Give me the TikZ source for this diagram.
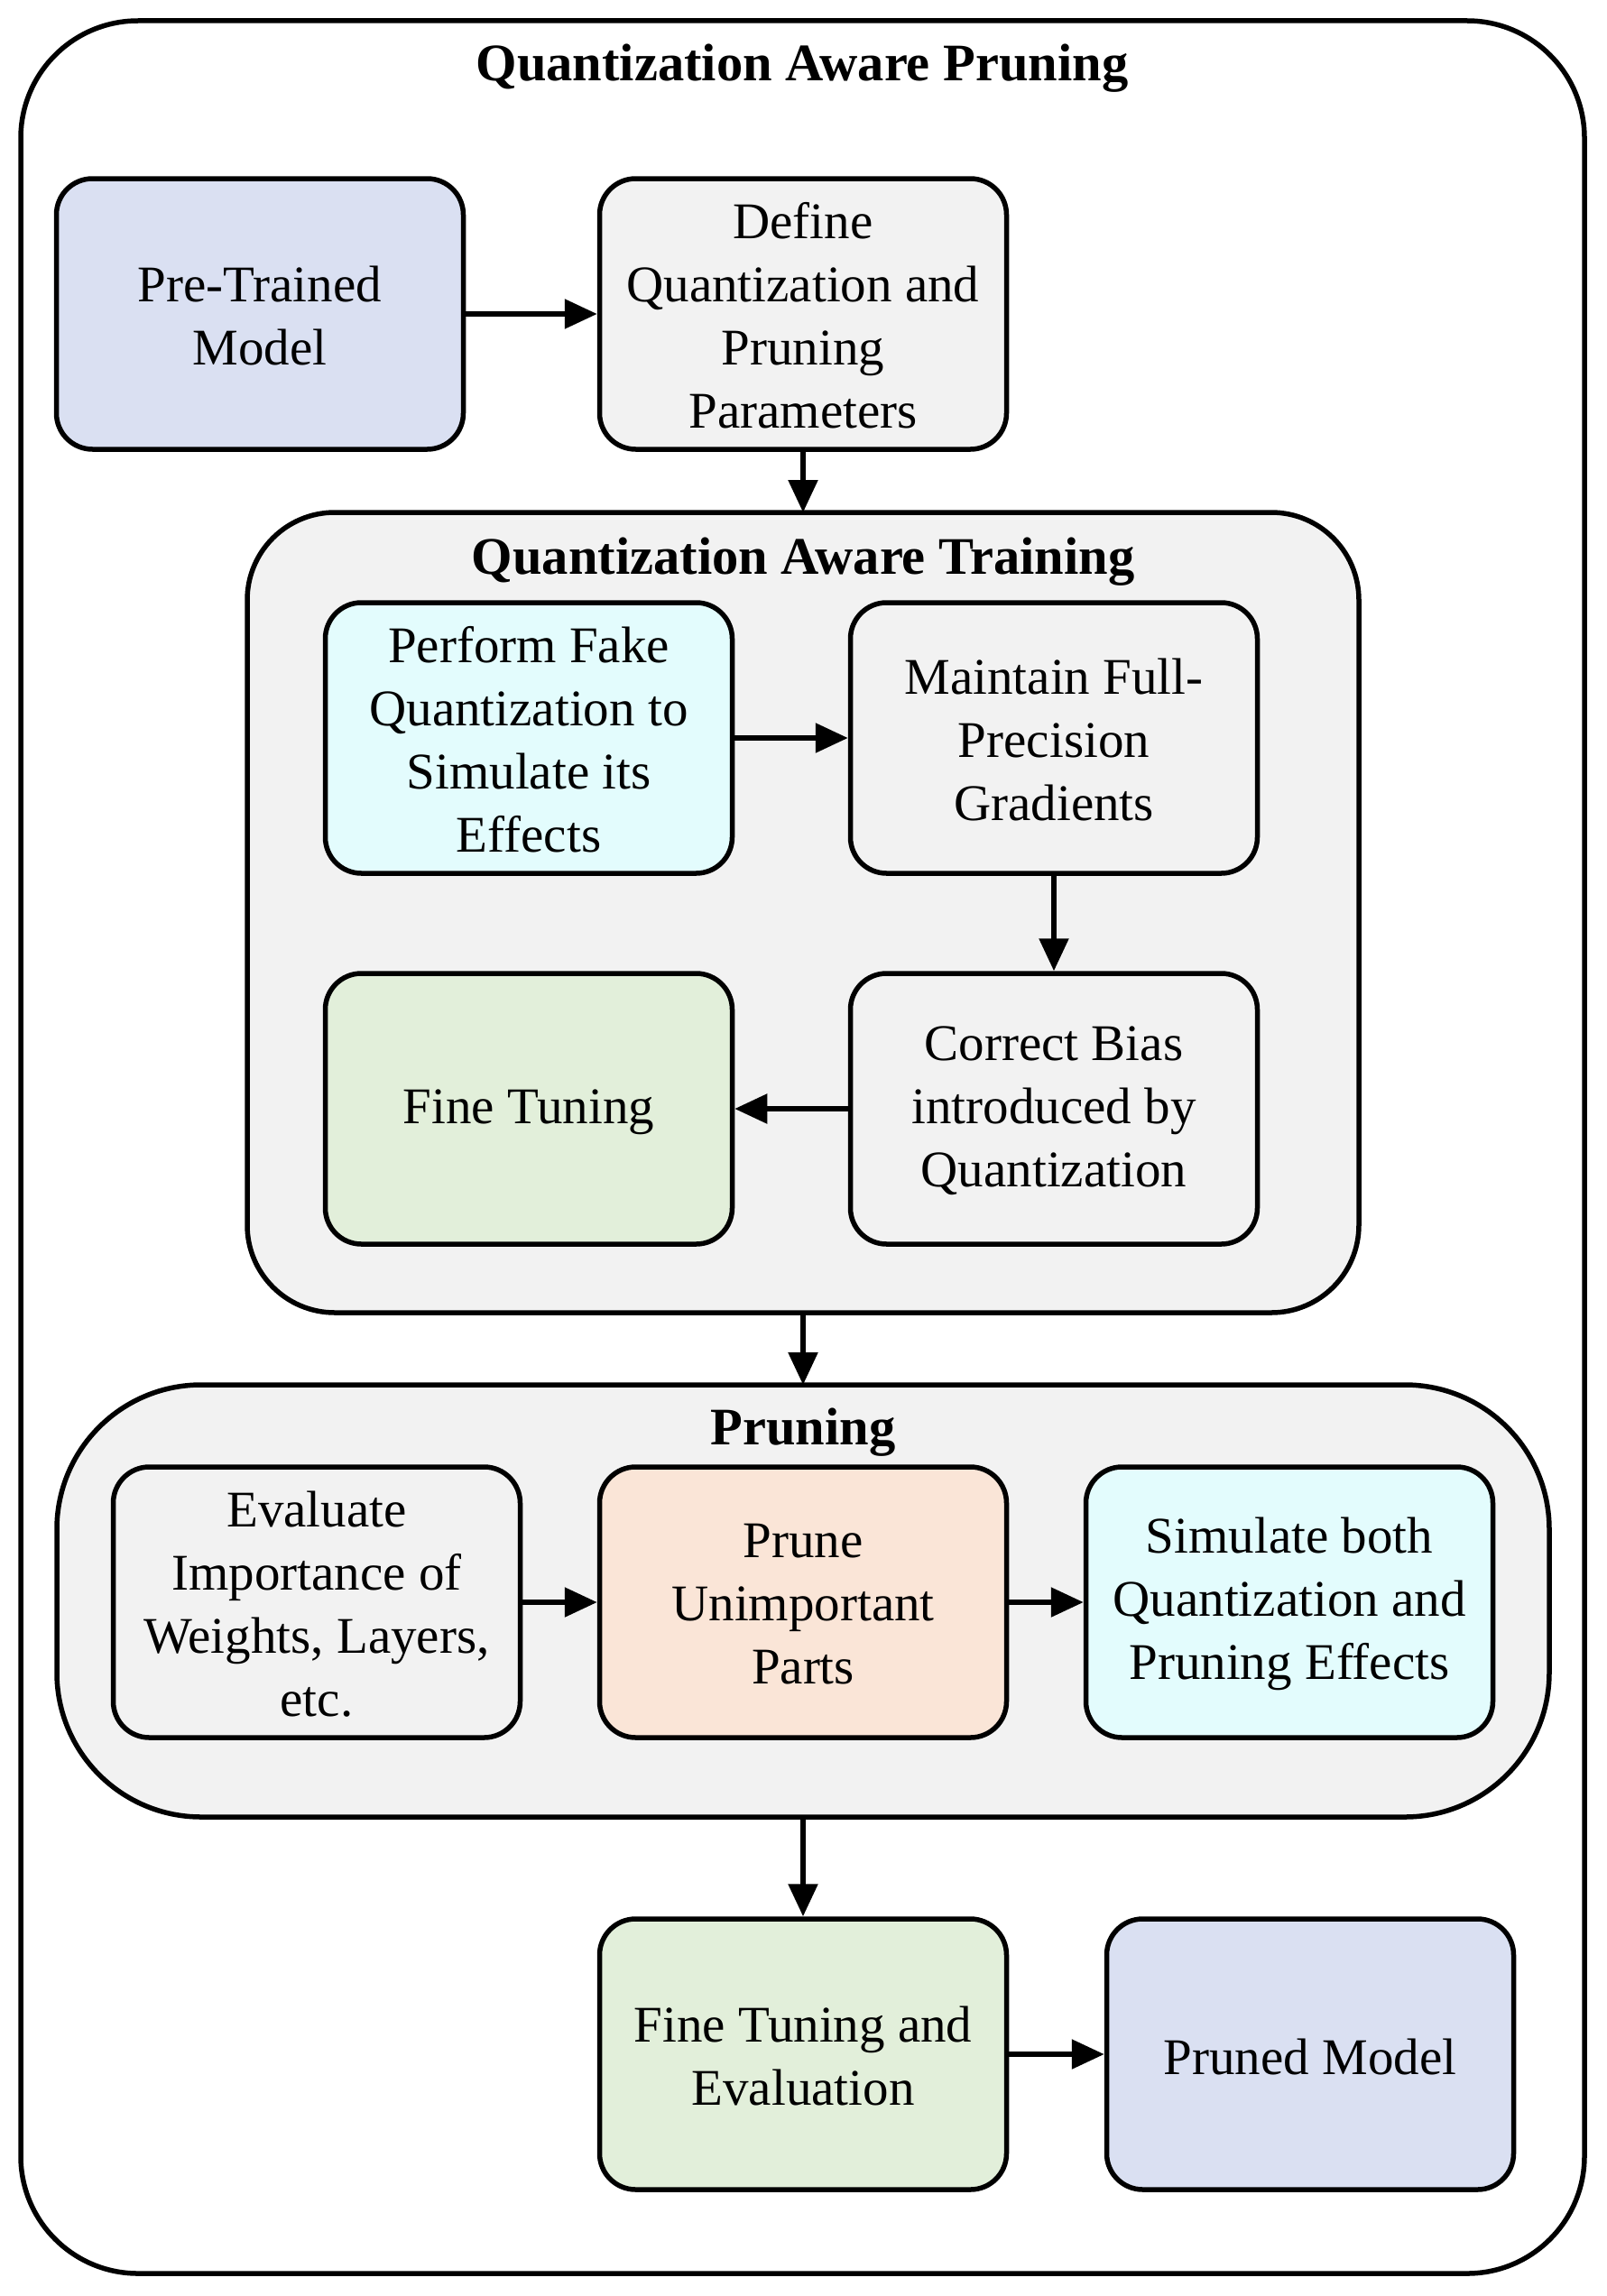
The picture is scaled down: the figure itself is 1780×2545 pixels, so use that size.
\documentclass[tikz,border=0pt]{standalone}
\usepackage{fontspec}
\setmainfont{Liberation Serif}
\usetikzlibrary{arrows.meta}
\definecolor{cblue}{HTML}{DAE0F2}
\definecolor{cgray}{HTML}{F2F2F2}
\definecolor{ccyan}{HTML}{E3FCFD}
\definecolor{cgreen}{HTML}{E2EFDA}
\definecolor{cpeach}{HTML}{FAE5D7}
\tikzset{
  box/.style={draw=black, line width=5.5pt, rounded corners=40pt, minimum width=451pt, minimum height=300pt, align=center, inner sep=0pt, font=\fontsize{57}{70}\selectfont},
  lbl/.style={align=center, inner sep=0pt, font=\fontsize{57}{70}\selectfont},
  cont/.style={draw=black, line width=5.5pt, fill=cgray, inner sep=0pt},
  ttl/.style={font=\bfseries\fontsize{58.5}{70}\selectfont, inner sep=0pt},
  arr/.style={line width=5.5pt, -{Triangle[length=36pt,width=32pt]}}
}
\begin{document}
\begin{tikzpicture}[x=1pt,y=-1pt]
\useasboundingbox (0,0) rectangle (1780,2545);
\fill[white] (0,0) rectangle (1780,2545);
% outer
\draw[line width=5.5pt, rounded corners=130pt] (23,23) rectangle (1756,2520);
\node[ttl] (t0) at (889,76) {Quantization Aware Pruning};
% top row
\node[box, fill=cblue] (pre) at (288,348) {};
\node[lbl] at (288,350) {Pre-Trained\\Model};
\node[box, fill=cgray] (def) at (890,348) {};
\node[lbl] at (890,350) {Define\\Quantization and\\Pruning\\Parameters};
% QAT container
\draw[cont, rounded corners=97pt] (274,568) rectangle (1506,1455);
\coordinate (qattop) at (890,568);
\coordinate (qatbot) at (890,1455);
\node[ttl] (t1) at (890,623) {Quantization Aware Training};
\node[box, fill=ccyan] (fake) at (586,818) {};
\node[lbl] at (586,820) {Perform Fake\\Quantization to\\Simulate its\\Effects};
\node[box, fill=cgray] (maint) at (1168,818) {};
\node[lbl] at (1168,820) {Maintain Full-\\Precision\\Gradients};
\node[box, fill=cgreen] (fine) at (586,1229) {};
\node[lbl] at (586,1233) {Fine Tuning};
\node[box, fill=cgray] (corr) at (1168,1229) {};
\node[lbl] at (1168,1231) {Correct Bias\\introduced by\\Quantization};
% Pruning container
\draw[cont, rounded corners=160pt] (63,1535) rectangle (1717,2014);
\coordinate (prtop) at (890,1535);
\coordinate (prbot) at (890,2014);
\node[ttl] (t2) at (890,1588) {Pruning};
\node[box, fill=cgray] (eval) at (351,1776) {};
\node[lbl] at (351,1778) {Evaluate\\Importance of\\Weights, Layers,\\etc.};
\node[box, fill=cpeach] (prune) at (890,1776) {};
\node[lbl] at (890,1778) {Prune\\Unimportant\\Parts};
\node[box, fill=ccyan] (sim) at (1429,1776) {};
\node[lbl] at (1429,1778) {Simulate both\\Quantization and\\Pruning Effects};
% bottom row
\node[box, fill=cgreen] (fte) at (890,2277) {};
\node[lbl] at (890,2279) {Fine Tuning and\\Evaluation};
\node[box, fill=cblue] (pm) at (1452,2277) {};
\node[lbl] at (1452,2280) {Pruned Model};
% arrows
\draw[arr] (pre) -- (def);
\draw[arr] (def) -- (qattop);
\draw[arr] (fake) -- (maint);
\draw[arr] (maint) -- (corr);
\draw[arr] (corr) -- (fine);
\draw[arr] (qatbot) -- (prtop);
\draw[arr] (eval) -- (prune);
\draw[arr] (prune) -- (sim);
\draw[arr] (prbot) -- (fte);
\draw[arr] (fte) -- (pm);
\end{tikzpicture}
\end{document}
